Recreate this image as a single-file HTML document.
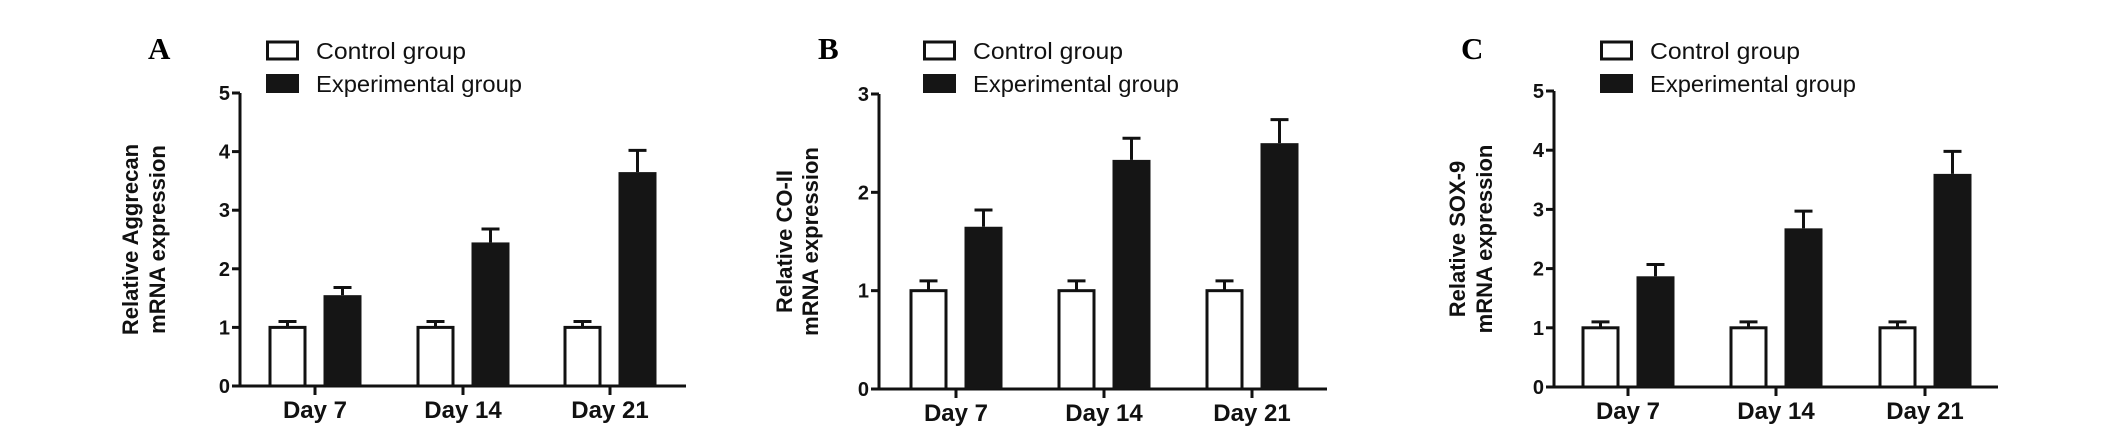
<!DOCTYPE html>
<html><head><meta charset="utf-8"><style>
html,body{margin:0;padding:0;background:#fff;}
svg{display:block;}
text{font-family:"Liberation Sans",Arial,sans-serif;}
</style></head><body>
<svg id="fig" width="2126" height="433" viewBox="0 0 2126 433" xmlns="http://www.w3.org/2000/svg"></svg>
<script>
const categories = ["Day 7","Day 14","Day 21"];
const seriesNames = ["Control group","Experimental group"];
const aControl = [1.0,1.0,1.0];
const aControlErr = [0.1,0.1,0.1];
const aExp = [1.55,2.45,3.65];
const aExpErr = [0.13,0.23,0.37];
const bControl = [1.0,1.0,1.0];
const bControlErr = [0.1,0.1,0.1];
const bExp = [1.65,2.33,2.5];
const bExpErr = [0.17,0.22,0.24];
const cControl = [1.0,1.0,1.0];
const cControlErr = [0.1,0.1,0.1];
const cExp = [1.87,2.68,3.6];
const cExpErr = [0.2,0.29,0.38];
const aTicks = [0,1,2,3,4,5];
const bTicks = [0,1,2,3];
const cTicks = [0,1,2,3,4,5];

const NS="http://www.w3.org/2000/svg";
const svg=document.getElementById('fig');
function mk(tag,attrs,parent){const e=document.createElementNS(NS,tag);for(const k in attrs)e.setAttribute(k,attrs[k]);(parent||svg).appendChild(e);return e;}

const panels=[
 {id:'a',letter:'A',title:['Relative Aggrecan','mRNA expression'],ctrl:aControl,ctrlErr:aControlErr,exp:aExp,expErr:aExpErr,ticks:aTicks,max:5,
  axX:240,axR:686,y0:386,yTop:93,centers:[315,463,610],letterX:148,legX:266,titleX:[138,165]},
 {id:'b',letter:'B',title:['Relative CO-II','mRNA expression'],ctrl:bControl,ctrlErr:bControlErr,exp:bExp,expErr:bExpErr,ticks:bTicks,max:3,
  axX:879,axR:1327,y0:389,yTop:94,centers:[956,1104,1252],letterX:818,legX:923,titleX:[792,818]},
 {id:'c',letter:'C',title:['Relative SOX-9','mRNA expression'],ctrl:cControl,ctrlErr:cControlErr,exp:cExp,expErr:cExpErr,ticks:cTicks,max:5,
  axX:1554,axR:1998,y0:387,yTop:91,centers:[1628,1776,1925],letterX:1461,legX:1600,titleX:[1465,1492]}
];

panels.forEach(p=>{
  const g=mk('g',{});
  
  
  const y=v=>p.y0-(v/p.max)*(p.y0-p.yTop);
  const bw=38, gap=17;
  const L=mk('text',{x:p.letterX,y:59,style:'font-family:"Liberation Serif",serif;font-weight:bold;font-size:31px'},g);
  L.textContent=p.letter;
  
  
  const lg=mk('g',{},g);
  
  
  const r1=mk('rect',{x:p.legX+1.5,y:42,width:30,height:17,fill:'#fff',stroke:'#111','stroke-width':3},lg);
  
  
  const t1=mk('text',{x:p.legX+50,y:59,'font-size':23,fill:'#111',textLength:150,lengthAdjust:'spacingAndGlyphs'},lg);
  t1.textContent=seriesNames[0];
  
  
  const r2=mk('rect',{x:p.legX,y:74,width:33,height:19,fill:'#151515'},lg);
  
  
  const t2=mk('text',{x:p.legX+50,y:92,'font-size':23,fill:'#111',textLength:206,lengthAdjust:'spacingAndGlyphs'},lg);
  t2.textContent=seriesNames[1];
  
  
  const cy=(p.y0+p.yTop)/2;
  p.title.forEach((s,i)=>{
    const t=mk('text',{x:p.titleX[i],y:cy,'font-size':22,'font-weight':'bold','text-anchor':'middle',transform:`rotate(-90 ${p.titleX[i]} ${cy})`,fill:'#111'},g);
    t.textContent=s;
    
    
  });
  const ya=mk('line',{x1:p.axX,y1:p.yTop,x2:p.axX,y2:p.y0,stroke:'#111','stroke-width':3},g);
  
  
  const xa=mk('line',{x1:p.axX-8,y1:p.y0,x2:p.axR,y2:p.y0,stroke:'#111','stroke-width':3},g);
  
  
  p.ticks.forEach(v=>{
    mk('line',{x1:p.axX-8,y1:y(v),x2:p.axX,y2:y(v),stroke:'#111','stroke-width':3},g);
    const t=mk('text',{x:p.axX-10,y:y(v)+7,'font-size':20,'font-weight':'bold','text-anchor':'end',fill:'#111'},g);
    t.textContent=v;
    
    
  });
  categories.forEach((c,i)=>{
    const cx=p.centers[i];
    mk('line',{x1:cx,y1:p.y0,x2:cx,y2:p.y0+9,stroke:'#111','stroke-width':3},g);
    const t=mk('text',{x:cx,y:p.y0+32,'font-size':24,'font-weight':'bold','text-anchor':'middle',fill:'#111'},g);
    t.textContent=c;
    
    
    const x1=cx-gap/2-bw, yc=y(p.ctrl[i]);
    const ec=mk('line',{x1:x1+bw/2,y1:y(p.ctrl[i]+p.ctrlErr[i]),x2:x1+bw/2,y2:yc,stroke:'#111','stroke-width':3},g);
    
    
    mk('line',{x1:x1+bw/2-9,y1:y(p.ctrl[i]+p.ctrlErr[i]),x2:x1+bw/2+9,y2:y(p.ctrl[i]+p.ctrlErr[i]),stroke:'#111','stroke-width':3},g);
    const b1=mk('rect',{x:x1+1.5,y:yc,width:bw-3,height:p.y0-yc,fill:'#fff',stroke:'#111','stroke-width':3},g);
    
    
    const x2=cx+gap/2, ye=y(p.exp[i]), yt=y(p.exp[i]+p.expErr[i]);
    const ee=mk('line',{x1:x2+bw/2,y1:yt,x2:x2+bw/2,y2:ye,stroke:'#111','stroke-width':3},g);
    
    
    mk('line',{x1:x2+bw/2-9,y1:yt,x2:x2+bw/2+9,y2:yt,stroke:'#111','stroke-width':3},g);
    const b2=mk('rect',{x:x2,y:ye,width:bw,height:p.y0-ye,fill:'#151515'},g);
    
    
  });
});
</script>
</body></html>
